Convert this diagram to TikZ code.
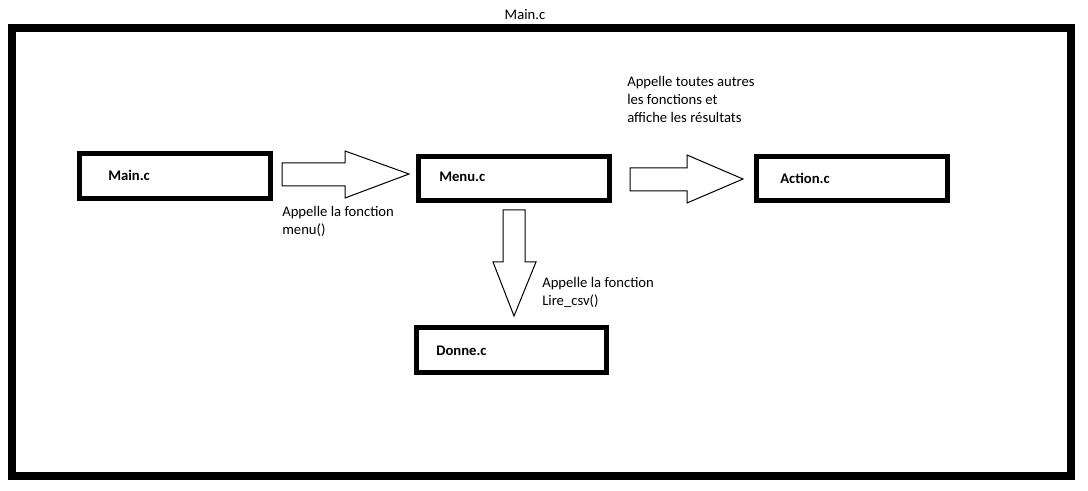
\documentclass[tikz,border=0pt]{standalone}
\usepackage{fontspec}
\setmainfont{Carlito}
\begin{document}
\begin{tikzpicture}[x=0.75pt,y=-0.75pt,
  frame/.style={draw=black,line width=6pt},
  filebox/.style={draw=black,line width=3.75pt,rectangle,inner sep=0pt,minimum width=143.25pt,minimum height=33.5pt},
  boxlabel/.style={anchor=base west,inner sep=0pt,font=\fontsize{11pt}{13.5pt}\selectfont\bfseries},
  note/.style={anchor=north west,inner sep=0pt,align=left,font=\fontsize{11pt}{13.5pt}\selectfont},
  blockarrow/.style={draw=black,line width=0.75pt,fill=white,line join=miter}]
\useasboundingbox (0,0) rectangle (1088,491);
\fill[white] (0,0) rectangle (1088,491);
% outer frame
\draw[frame] (12,28) rectangle (1071,476);
\node[anchor=base,inner sep=0pt,font=\fontsize{11pt}{13.5pt}\selectfont] (title) at (525,20) {Main.c};
% boxes
\node[filebox] (mainbox) at (175,176) {};
\node[filebox,minimum height=33pt] (menubox) at (513.75,178.5) {};
\node[filebox,minimum height=33pt] (actionbox) at (852,178.5) {};
\node[filebox,minimum width=142.5pt] (donnebox) at (511.5,350) {};
\node[boxlabel] (tmain) at (108,181) {Main.c};
\node[boxlabel] (tmenu) at (439,182) {Menu.c};
\node[boxlabel] (taction) at (780,184) {Action.c};
\node[boxlabel] (tdonne) at (436,355) {Donne.c};
% block arrows
\draw[blockarrow] (282,163) -- (345,163) -- (345,151) -- (409,174) -- (345,198) -- (345,186) -- (282,186) -- cycle;
\draw[blockarrow] (630,168) -- (687,168) -- (687,155) -- (743,179) -- (687,203) -- (687,191) -- (630,191) -- cycle;
\draw[blockarrow] (503,210) -- (525,210) -- (525,262) -- (536,262) -- (514,316) -- (493,262) -- (503,262) -- cycle;
% notes
\node[note] (n1) at (282,206.5) {Appelle la fonction\\menu()};
\node[note] (n2) at (627,76.5) {Appelle toutes autres\\les fonctions et\\affiche les résultats};
\node[note] (n3) at (542,277.5) {Appelle la fonction\\Lire\_csv()};
\end{tikzpicture}
\end{document}
